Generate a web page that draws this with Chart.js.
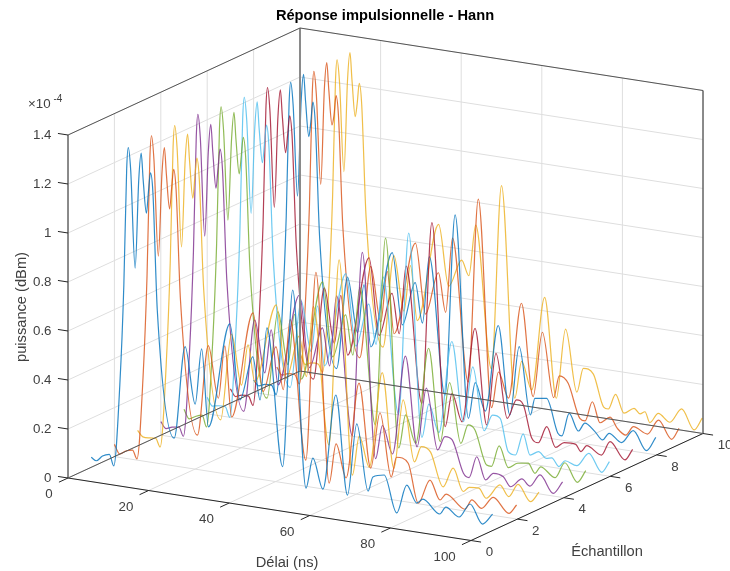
<!DOCTYPE html>
<html><head><meta charset="utf-8">
<style>html,body{margin:0;padding:0;background:#fff}canvas{display:block;filter:blur(0.4px)}</style>
<script src="https://cdn.jsdelivr.net/npm/chart.js@4"></script>
</head><body><canvas id="c" width="730" height="571"></canvas>
<script>
const titleText = "Réponse impulsionnelle - Hann";
const xLabel = "Délai (ns)", yLabel = "Échantillon", zLabel = "puissance (dBm)";
const xTicks = [0,20,40,60,80,100];
const yTicks = [0,2,4,6,8,10];
const zTicks = [0,0.2,0.4,0.6,0.8,1,1.2,1.4];
const samples = [1,2,3,4,5,6,7,8,9,10];
const colors = ["#0072BDd0","#D95319d0","#EDB120d0","#7E2F8Ed0","#77AC30d0","#4DBEEEd0","#A2142Fd0","#0072BDd0","#D95319d0","#EDB120d0"];

const headDelay = [0,1.3,2.8,4.5,5.6,7.1,8.1,8.8,9.2,9.8,10.9,11.8,12.4,12.9,13.7,14.2,14.7,15.3,16.4,20.6,23.3,25.8,27.4,29.1,34.4,36.9,40.1,41.9,43.6,47.5,50,53.3,55,57.5,60.7,63.6,65.9,68.7];

const head1 = [.041,.03,.053,.064,.02,.354,.765,1.238,1.328,1.238,.841,1.204,1.314,1.205,1.072,1.16,1.239,1.164,.683,.172,.552,.324,.553,.239,.673,.369,.553,.382,.68,.124,.851,.051,.178,.058,.45,.049,.345,.078];
const head2 = [.05,.014,.03,.038,.005,.34,.76,1.24,1.333,1.24,.846,1.185,1.293,1.185,1.046,1.13,1.21,1.13,.68,.14,.512,.304,.522,.236,.674,.36,.55,.38,.67,.107,.88,.028,.192,.06,.455,.115,.347,.092];
const head3 = [.063,.04,.04,.042,.01,.35,.77,1.24,1.331,1.24,.84,1.195,1.304,1.195,1.046,1.13,1.212,1.13,.68,.159,.516,.314,.482,.335,.663,.37,.55,.39,.68,.125,.887,.017,.18,.06,.454,.07,.356,.11];
const head4 = [.055,.03,.04,.045,.01,.35,.77,1.24,1.333,1.24,.84,1.19,1.30,1.19,1.043,1.125,1.205,1.125,.67,.15,.53,.32,.5,.28,.66,.37,.54,.39,.68,.12,.874,.04,.18,.07,.478,.115,.36,.115];
const head5 = [.062,.026,.04,.05,.004,.35,.76,1.23,1.32,1.23,.862,1.195,1.306,1.195,1.058,1.13,1.21,1.13,.67,.16,.52,.31,.52,.26,.67,.37,.55,.39,.67,.12,.888,.04,.18,.07,.466,.092,.339,.098];
const head6 = [.067,.035,.04,.04,0,.35,.76,1.225,1.315,1.225,.846,1.195,1.305,1.195,1.06,1.135,1.216,1.135,.67,.16,.52,.32,.51,.27,.66,.37,.55,.39,.67,.12,.865,.04,.18,.07,.45,.13,.36,.106];
const head7 = [.058,.03,.04,.04,.005,.35,.75,1.22,1.311,1.22,.827,1.2,1.31,1.2,1.057,1.13,1.21,1.13,.67,.15,.53,.31,.51,.27,.681,.37,.55,.39,.67,.12,.864,.04,.18,.07,.46,.073,.371,.113];
const head8 = [.05,.03,.04,.04,.005,.34,.74,1.2,1.289,1.2,.829,1.22,1.33,1.22,1.079,1.14,1.222,1.14,.67,.15,.53,.31,.51,.26,.658,.37,.55,.39,.665,.11,.852,.03,.18,.07,.428,.07,.355,.083];
const head9 = [.06,.03,.04,.04,.005,.34,.74,1.2,1.29,1.2,.833,1.225,1.334,1.225,1.083,1.125,1.205,1.125,.67,.15,.53,.31,.52,.27,.653,.37,.547,.39,.697,.12,.873,.03,.18,.08,.475,.101,.37,.11];
const head10 = [.073,.03,.04,.04,.01,.34,.74,1.205,1.293,1.205,.841,1.22,1.331,1.22,1.073,1.13,1.212,1.13,.67,.15,.53,.31,.5,.28,.686,.44,.555,.496,.707,.13,.884,.025,.18,.07,.455,.051,.339,.089];

const tailDelay1 = [69.9,72.7,75.8,78.3,80.8,82.3,86.5,88,91.3,94,97.1,99.6];
const tail1 = [.139,.154,.007,.127,.06,.08,.03,.062,.03,.09,.016,.063];
const tailDelay2 = [70,72.9,75.4,78.3,80.8,82.3,87,88.7,91.1,94,97.9,99.8];
const tail2 = [.176,.159,.002,.104,.029,.057,.007,.05,.021,.073,.018,.057];
const tailDelay3 = [70.4,72.7,75.8,78.3,80.8,82.3,84.7,86.5,89.9,92.1,94.4,97.5,99.6];
const tail3 = [.177,.16,.026,.109,.02,.041,.044,.007,.07,.028,.084,.021,.065];
const tailDelay4 = [70.5,72.3,75.1,76.5,78.4,80.6,82.5,85,86.8,89.6,91.6,94.1,97.4,99.7];
const tail4 = [.174,.165,.036,.022,.112,.023,.055,.047,.011,.05,.026,.078,.011,.064];
const tailDelay5 = [70.5,72.2,75.1,76.3,78.2,80.5,82.8,85.4,87.1,88.5,92.1,94.5,97.6,99.7];
const tail5 = [.178,.162,.026,.024,.112,.029,.053,.06,.023,.053,.018,.085,.013,.066];
const tailDelay6 = [70.8,72.7,74.7,76.5,78.4,80.1,82.2,84.2,85.5,87.3,88.8,91.7,94.7,97.9,99.8];
const tail6 = [.175,.167,.036,.027,.118,.036,.055,.033,.038,.007,.035,.022,.08,.011,.059];
const tailDelay7 = [71,72.7,74.8,76.4,78.5,80.7,82.8,85.7,87,88.4,92.1,94.2,97.9,99.8];
const tail7 = [.194,.178,.047,.033,.104,.025,.05,.05,.024,.052,.023,.083,.018,.066];
const tailDelay8 = [69.8,72.7,75.5,76.5,78.3,80.6,82.2,84.7,86.6,88.2,91.3,94.2,97.5,99.8];
const tail8 = [.154,.161,.026,.018,.114,.048,.084,.056,.027,.058,.028,.084,.011,.071];
const tailDelay9 = [70.1,72.3,75.2,76.5,78.3,80.2,82.7,84.5,86.6,88.5,92,94.7,98,99.8];
const tail9 = [.203,.178,.042,.035,.118,.037,.066,.025,.003,.042,.021,.085,.015,.064];
const tailDelay10 = [70.3,72.8,75.3,76.5,78.3,80.4,82.9,84.4,85.6,86.8,88.9,91.8,94.7,97.8,99.8];
const tail10 = [.19,.173,.046,.04,.104,.033,.059,.04,.052,.011,.054,.025,.087,.009,.062];

const heads = [head1,head2,head3,head4,head5,head6,head7,head8,head9,head10];
const tails = [tail1,tail2,tail3,tail4,tail5,tail6,tail7,tail8,tail9,tail10];
const tailDelays = [tailDelay1,tailDelay2,tailDelay3,tailDelay4,tailDelay5,tailDelay6,tailDelay7,tailDelay8,tailDelay9,tailDelay10];

// Orthographic projection of the MATLAB view
const P = {ox:68, oy:478, xx:4.03, xy:0.625, yx:23.2, yy:-10.7, zy:-245};
const proj = (x,y,z)=>({x:P.ox+P.xx*x+P.yx*y, y:P.oy+P.xy*x+P.yy*y+P.zy*z});
const XM=100, YM=10, ZM=1.4;

const datasets = [];
const addLine = (pts,color,width,order)=>datasets.push({data:pts,borderColor:color,borderWidth:width,order,showLine:true,pointRadius:0,tension:0,fill:false});

// curves: nearest sample on top
samples.forEach((s,i)=>{
  const d = headDelay.concat(tailDelays[i]);
  const v = heads[i].concat(tails[i]);
  datasets.push({label:"Échantillon "+s,data:d.map((x,j)=>proj(x,s,v[j])),borderColor:colors[i],borderWidth:1.2,order:i+2,
    showLine:true,pointRadius:0,fill:false,cubicInterpolationMode:"monotone"});
});

// grid
const GRID="#dedede";
zTicks.forEach(z=>{ addLine([proj(0,0,z),proj(0,YM,z),proj(XM,YM,z)],GRID,1,50); });
yTicks.forEach(y=>{ addLine([proj(XM,y,0),proj(0,y,0),proj(0,y,ZM)],GRID,1,50); });
xTicks.forEach(x=>{ addLine([proj(x,0,0),proj(x,YM,0),proj(x,YM,ZM)],GRID,1,50); });

// box
const DARK="#262626", MID="#555555";
addLine([proj(0,0,ZM),proj(0,YM,ZM),proj(XM,YM,ZM)],MID,1,0);
addLine([proj(0,YM,0),proj(0,YM,ZM)],"#8a8a8a",2,0);
addLine([proj(0,0,0),proj(0,YM,0),proj(XM,YM,0)],MID,1,0);
addLine([proj(0,0,0),proj(XM,0,0),proj(XM,YM,0)],DARK,1,0);
addLine([proj(0,0,0),proj(0,0,ZM)],DARK,1,0);
addLine([proj(XM,YM,0),proj(XM,YM,ZM)],DARK,1,0);

// ticks
xTicks.forEach(x=>addLine([proj(x,0,0),proj(x,-0.39,0)],DARK,1,0));
yTicks.forEach(y=>addLine([proj(XM,y,0),proj(XM+2.5,y,0)],DARK,1,0));
zTicks.forEach(z=>addLine([proj(0,0,z),proj(-2.5,0,z)],DARK,1,0));

const TXT="#404040";
const textPlugin = {id:"text3d",afterDraw(chart){
  const c=chart.ctx; c.save(); c.fillStyle=TXT; c.textBaseline="middle";
  c.font="13.33px 'Liberation Sans'";
  c.textAlign="right";
  xTicks.forEach(x=>{const p=proj(x,0,0);c.fillText(String(x),p.x-15.3,p.y+16.5);});
  zTicks.forEach(z=>{const p=proj(0,0,z);c.fillText(String(z),51.5,p.y);});
  c.textAlign="left";
  yTicks.forEach(y=>{const p=proj(XM,y,0);c.fillText(String(y),p.x+14.7,p.y+12);});
  c.fillText("×10",28,104);
  c.font="10px 'Liberation Sans'";
  c.fillText("-4",53.5,99.5);
  c.textAlign="center";
  c.font="14.67px 'Liberation Sans'";
  c.fillText(xLabel,287,563);
  c.fillText(yLabel,607,552);
  c.save(); c.translate(21.5,307); c.rotate(-Math.PI/2); c.fillText(zLabel,0,0); c.restore();
  c.fillStyle="#000"; c.font="bold 14.67px 'Liberation Sans'";
  c.fillText(titleText,385,16);
  c.restore();
}};

new Chart(document.getElementById("c"),{
  type:"scatter",
  data:{datasets},
  options:{
    responsive:false,animation:false,
    layout:{padding:0},
    plugins:{legend:{display:false},tooltip:{enabled:false},title:{display:false}},
    scales:{
      x:{type:"linear",min:0,max:730,display:false},
      y:{type:"linear",min:0,max:571,reverse:true,display:false}
    }
  },
  plugins:[textPlugin]
});
</script></body></html>
